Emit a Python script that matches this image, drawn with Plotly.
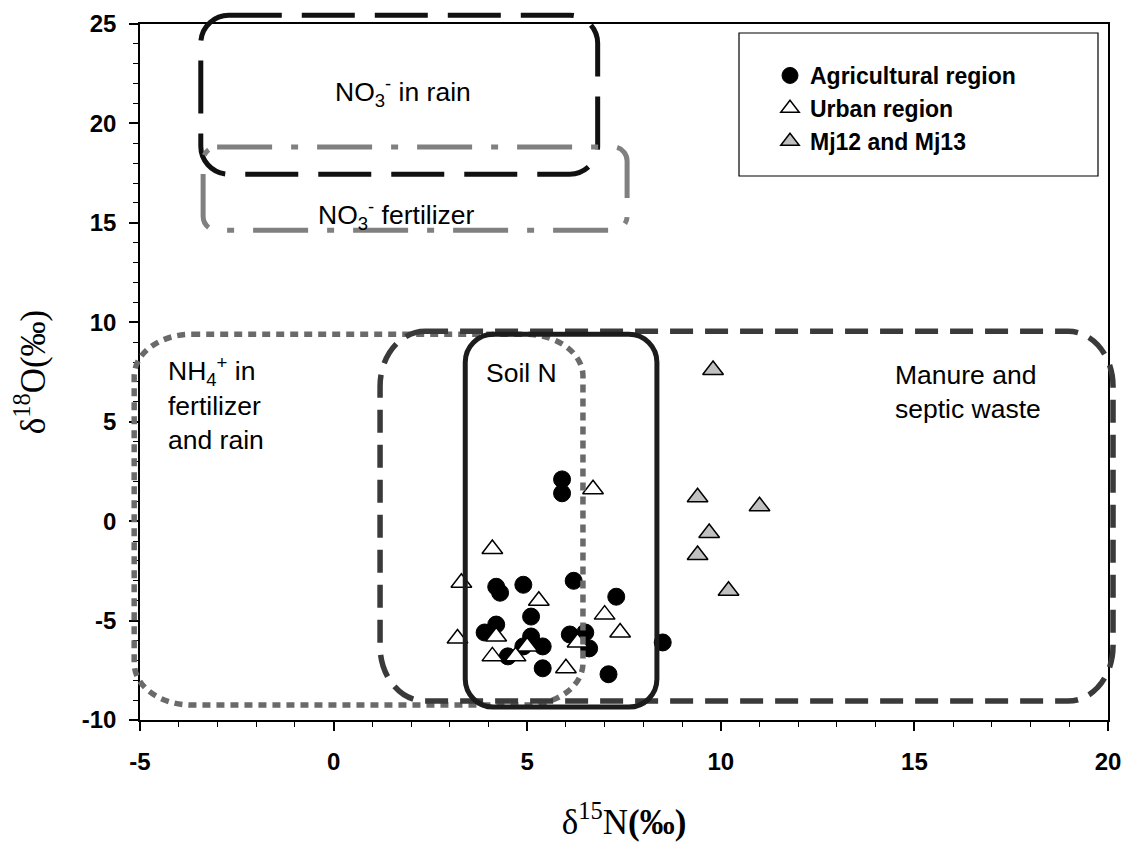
import plotly.graph_objects as go

# ---------------- data ----------------
x_range = [-5, 20]
y_range = [-10, 25]
x_ticks = [-5, 0, 5, 10, 15, 20]
x_ticktext = ["-5", "0", "5", "10", "15", "20"]
y_ticks = [-10, -5, 0, 5, 10, 15, 20, 25]
y_ticktext = ["-10", "-5", "0", "5", "10", "15", "20", "25"]

agri_x = [5.9, 5.9, 6.2, 7.3, 4.9, 4.2, 4.3, 5.1, 4.2, 3.9, 5.1, 6.1, 6.5, 4.9, 5.4, 6.6, 4.5, 5.4, 7.1, 8.5]
agri_y = [2.1, 1.4, -3.0, -3.8, -3.2, -3.3, -3.6, -4.8, -5.2, -5.6, -5.8, -5.7, -5.6, -6.3, -6.3, -6.4, -6.8, -7.4, -7.7, -6.1]

urban_x = [6.7, 4.1, 3.3, 5.3, 7.0, 7.4, 3.2, 4.2, 5.0, 4.1, 4.7, 6.0, 6.3]
urban_y = [1.6, -1.4, -3.1, -4.0, -4.7, -5.6, -5.9, -5.8, -6.3, -6.8, -6.8, -7.4, -6.1]

mj_x = [9.8, 9.4, 11.0, 9.7, 9.4, 10.2]
mj_y = [7.6, 1.2, 0.75, -0.6, -1.7, -3.5]

# source regions (delta15N range, delta18O range)
region_names = ["NO3 rain", "NO3 fertilizer", "NH4 fertilizer and rain", "Manure and septic waste", "Soil N"]
region_x0 = [-3.43, -3.37, -5.15, 1.2, 3.4]
region_x1 = [6.82, 7.58, 6.44, 20.13, 8.35]
region_y0 = [17.45, 14.63, -9.25, -9.05, -9.35]
region_y1 = [25.44, 18.82, 9.4, 9.55, 9.4]

# ---------------- layout geometry ----------------
W, H = 1129, 843
ML, MR, MT, MB = 140, 21, 24, 123
PW = W - ML - MR
PH = H - MT - MB

FONT = "Liberation Sans, Arial, sans-serif"
SERIF = "Liberation Serif, Times New Roman, serif"


def rrect(x0, x1, y0, y1, rx, ry):
    k = 0.5523
    f = lambda v: f"{v:.5f}"
    p = [
        f"M{f(x0+rx)},{f(y1)}",
        f"L{f(x1-rx)},{f(y1)}",
        f"C{f(x1-rx+k*rx)},{f(y1)} {f(x1)},{f(y1-ry+k*ry)} {f(x1)},{f(y1-ry)}",
        f"L{f(x1)},{f(y0+ry)}",
        f"C{f(x1)},{f(y0+ry-k*ry)} {f(x1-rx+k*rx)},{f(y0)} {f(x1-rx)},{f(y0)}",
        f"L{f(x0+rx)},{f(y0)}",
        f"C{f(x0+rx-k*rx)},{f(y0)} {f(x0)},{f(y0+ry-k*ry)} {f(x0)},{f(y0+ry)}",
        f"L{f(x0)},{f(y1-ry)}",
        f"C{f(x0)},{f(y1-ry+k*ry)} {f(x0+rx-k*rx)},{f(y1)} {f(x0+rx)},{f(y1)}",
        "Z",
    ]
    return " ".join(p)


def region_shape(i, rxp, ryp, color, width, dash):
    # region given in data units, converted to paper fractions through the axis ranges
    xs = x_range[1] - x_range[0]
    ys = y_range[1] - y_range[0]
    x0 = (region_x0[i] - x_range[0]) / xs
    x1 = (region_x1[i] - x_range[0]) / xs
    y0 = (region_y0[i] - y_range[0]) / ys
    y1 = (region_y1[i] - y_range[0]) / ys
    return dict(
        type="path", xref="paper", yref="paper", layer="above",
        path=rrect(x0, x1, y0, y1, rxp / PW, ryp / PH),
        line=dict(color=color, width=width, dash=dash),
    )


fig = go.Figure()

fig.add_trace(go.Scatter(
    x=agri_x, y=agri_y, mode="markers", name="Agricultural region",
    marker=dict(symbol="circle", size=17, color="black", line=dict(color="black", width=1)),
))
fig.add_trace(go.Scatter(
    x=urban_x, y=urban_y, mode="markers", name="Urban region",
    marker=dict(symbol="triangle-up", size=18, color="white", line=dict(color="black", width=1.5)),
))
fig.add_trace(go.Scatter(
    x=mj_x, y=mj_y, mode="markers", name="Mj12 and Mj13",
    marker=dict(symbol="triangle-up", size=18, color="#c0c0c0", line=dict(color="black", width=1.5)),
))

shapes = [
    region_shape(0, 28, 28, "#111111", 5, "53px,20px"),
    region_shape(1, 14, 14, "#808080", 5, "55px,19px,7px,19px"),
    region_shape(2, 58, 42, "#6a6a6a", 5.5, "8px,6px"),
    region_shape(3, 45, 55, "#3a3a3a", 5.5, "23px,12px"),
    region_shape(4, 28, 28, "#1c1c1c", 5, "solid"),
    # legend frame
    dict(type="rect", xref="paper", yref="paper",
         x0=(739 - ML) / PW, x1=(1098 - ML) / PW,
         y0=(H - MB - 176) / PH, y1=(H - MB - 33) / PH,
         line=dict(color="black", width=1.2), fillcolor="rgba(0,0,0,0)", layer="above"),
]

ann_font = dict(family=FONT, size=26.5, color="black")
annotations = [
    dict(x=1.8, y=21.6, text="NO<sub>3</sub><sup>-</sup> in rain", showarrow=False,
         xanchor="center", yanchor="middle", font=ann_font),
    dict(x=1.62, y=15.4, text="NO<sub>3</sub><sup>-</sup> fertilizer", showarrow=False,
         xanchor="center", yanchor="middle", font=ann_font),
    dict(x=-4.33, y=5.9, text="NH<sub>4</sub><sup>+</sup> in<br>fertilizer<br>and rain", showarrow=False,
         xanchor="left", yanchor="middle", align="left", font=ann_font),
    dict(x=4.85, y=7.45, text="Soil N", showarrow=False,
         xanchor="center", yanchor="middle", font=ann_font),
    dict(x=14.45, y=6.5, text="Manure and<br>septic waste", showarrow=False,
         xanchor="left", yanchor="middle", align="left", font=ann_font),
]

axis_common = dict(
    showgrid=False, zeroline=False, showline=True, linecolor="black", linewidth=1.5,
    mirror=True, ticks="outside", ticklen=9, tickwidth=1.5, tickcolor="black",
    tickfont=dict(family=FONT, size=24, color="black", weight="bold"),
)

fig.update_layout(
    width=W, height=H,
    margin=dict(l=ML, r=MR, t=MT, b=MB, autoexpand=False),
    paper_bgcolor="white", plot_bgcolor="white",
    shapes=shapes, annotations=annotations,
    legend=dict(
        x=(770 - ML) / PW, y=(H - MB - 54) / PH, xanchor="left", yanchor="top",
        bgcolor="rgba(0,0,0,0)", borderwidth=0,
        font=dict(family=FONT, size=23, color="black", weight="bold"),
        tracegroupgap=0,
    ),
    xaxis=dict(
        range=x_range, tickvals=x_ticks, ticktext=x_ticktext,
        minor=dict(dtick=1, tick0=-5, ticks="outside", ticklen=5, tickwidth=1.2, tickcolor="black"),
        title=dict(text="δ<sup>15</sup>N<b>(‰)</b>", font=dict(family=SERIF, size=35, color="black"), standoff=36),
        ticklabelstandoff=10,
        **axis_common,
    ),
    yaxis=dict(
        range=y_range, tickvals=y_ticks, ticktext=y_ticktext,
        minor=dict(dtick=1, tick0=-10, ticks="outside", ticklen=5, tickwidth=1.2, tickcolor="black"),
        title=dict(text="δ<sup>18</sup>O(‰)", font=dict(family=SERIF, size=35, color="black"), standoff=26),
        ticklabelstandoff=8,
        **axis_common,
    ),
)

fig.write_html("out.html")
